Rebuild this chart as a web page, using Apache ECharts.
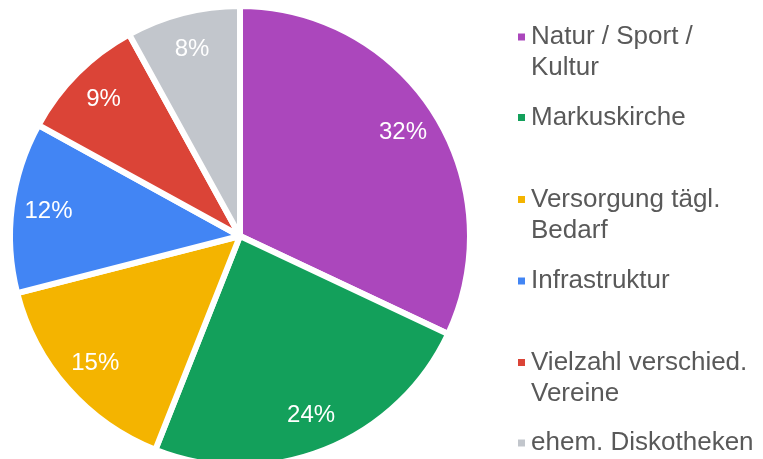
<!DOCTYPE html>
<html>
<head>
<meta charset="utf-8">
<script src="https://cdn.jsdelivr.net/npm/echarts@6/dist/echarts.min.js"></script>
<style>
  html, body { margin: 0; padding: 0; background: #ffffff; }
  #chart { width: 763px; height: 459px; }
</style>
</head>
<body>
<div id="chart"></div>
<script>
// Kategorien und Anteile (Prozent)
var categories = ['Natur / Sport /\nKultur', 'Markuskirche', 'Versorgung tägl.\nBedarf', 'Infrastruktur', 'Vielzahl verschied.\nVereine', 'ehem. Diskotheken'];
var shares = [32, 24, 15, 12, 9, 8];
var colors = ['#AB47BC', '#13A05B', '#F4B400', '#4285F4', '#DB4437', '#C2C6CC'];
// Mittelpunkt des Legendensymbols je Eintrag
var legendIconY = [37, 117.5, 199.5, 281, 362.5, 443];

var LINE_H = 31;
var pieData = categories.map(function (name, i) {
    return { name: name, value: shares[i], itemStyle: { color: colors[i] } };
});

// eine Legende pro Eintrag, damit die Abstände wie im Original gleich bleiben.
// Zweizeilige Namen bekommen eine Leerzeile davor, so steht das Symbol auf Höhe der ersten Zeile.
var legends = categories.map(function (name, i) {
    var lines = name.split('\n').length;
    var shown = lines > 1 ? 2 * lines - 1 : 1;
    return {
        show: true,
        orient: 'vertical',
        left: 516,
        top: legendIconY[i] - shown * LINE_H / 2,
        padding: 0,
        icon: 'rect',
        itemWidth: 9,
        itemHeight: 9,
        selectedMode: false,
        data: [name],
        formatter: function (n) {
            return lines > 1 ? '\n' + n : n;
        },
        textStyle: {
            fontFamily: 'Liberation Sans',
            fontSize: 26,
            lineHeight: LINE_H,
            color: '#595959'
        }
    };
});

var chart = echarts.init(document.getElementById('chart'));
chart.setOption({
    animation: false,
    backgroundColor: '#ffffff',
    legend: legends,
    series: [
        {
            type: 'pie',
            center: [240, 236],
            radius: [0, 230],
            startAngle: 90,
            clockwise: true,
            data: pieData,
            itemStyle: { borderColor: '#ffffff', borderWidth: 6 },
            label: { show: false },
            labelLine: { show: false },
            emphasis: { disabled: true }
        },
        {
            // nur für die Prozentbeschriftung, weiter außen platziert
            type: 'pie',
            center: [240, 236],
            radius: [152, 228],
            startAngle: 90,
            clockwise: true,
            silent: true,
            data: pieData.map(function (d) {
                return { name: d.name, value: d.value, itemStyle: { color: 'rgba(0,0,0,0)' } };
            }),
            itemStyle: { borderWidth: 0 },
            percentPrecision: 0,
            label: {
                show: true,
                position: 'inside',
                formatter: '{d}%',
                fontFamily: 'Liberation Sans',
                fontSize: 24,
                color: '#ffffff'
            },
            labelLine: { show: false },
            emphasis: { disabled: true }
        }
    ]
});
</script>
</body>
</html>
